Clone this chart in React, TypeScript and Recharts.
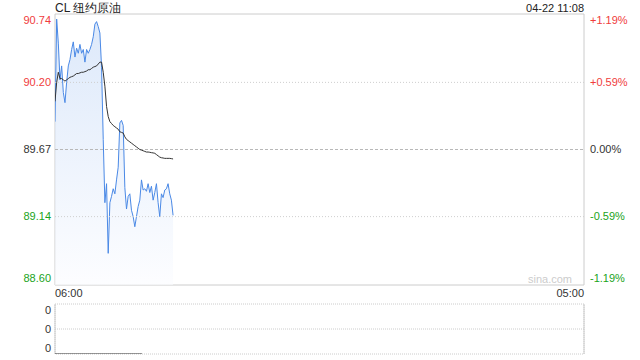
import { ComposedChart, Area, Line, XAxis, YAxis, ReferenceLine, ReferenceArea } from 'recharts';

// CL intraday, one reading about every 4.3 min from 06:00 to 11:08
const PRICE = [
  89.89, 90.70, 90.51, 90.22, 90.33, 90.12, 90.04, 90.20, 90.33, 90.38,
  90.46, 90.52, 90.40, 90.47, 90.43, 90.50, 90.43, 90.46, 90.36, 90.46,
  90.43, 90.46, 90.50, 90.56, 90.66, 90.68, 90.64, 90.59, 90.32, 89.75,
  89.25, 89.40, 88.85, 89.25, 89.30, 89.36, 89.32, 89.43, 89.53, 89.88,
  89.90, 89.86, 89.37, 89.20, 89.30, 89.32, 89.19, 89.14, 89.06, 89.14,
  89.22, 89.27, 89.43, 89.35, 89.36, 89.34, 89.40, 89.33, 89.38, 89.27,
  89.33, 89.40, 89.25, 89.14, 89.32, 89.29, 89.35, 89.36, 89.40, 89.32,
  89.27, 89.15,
];
const AVG = [
  90.05, 90.20, 90.28, 90.23, 90.23, 90.22, 90.21, 90.22, 90.23, 90.24,
  90.245, 90.25, 90.26, 90.27, 90.27, 90.275, 90.28, 90.28, 90.285, 90.29,
  90.30, 90.30, 90.31, 90.32, 90.325, 90.33, 90.345, 90.36, 90.36, 90.28,
  90.17, 90.01, 89.93, 89.89, 89.875, 89.86, 89.85, 89.84, 89.83, 89.81,
  89.805, 89.80, 89.77, 89.75, 89.74, 89.73, 89.72, 89.71, 89.70, 89.69,
  89.68, 89.67, 89.665, 89.66, 89.655, 89.65, 89.65, 89.648, 89.645, 89.643,
  89.64, 89.63, 89.62, 89.61, 89.605, 89.603, 89.60, 89.60, 89.60, 89.60,
  89.598, 89.595,
];
const STEP_MIN = 308 / (PRICE.length - 1);
const SESSION_MIN = 1380; // 06:00 -> 05:00

const PRICE_TICKS = [90.74, 90.2, 89.67, 89.14, 88.6];
const PCT_LABELS = ['+1.19%', '+0.59%', '0.00%', '-0.59%', '-1.19%'];
const TICK_COLORS = ['#f03c3c', '#f03c3c', '#333333', '#1aa31a', '#1aa31a'];
const TIME_TICKS = [0, SESSION_MIN];
const TIME_LABELS = ['06:00', '05:00'];

const VOL_MIN = [0, 227];
const VOL_VAL = [0, 0];
const VOL_TICKS = [2, 1, 0];

const FONT = '"Liberation Sans", Arial, sans-serif';

const rows = PRICE.map((p, i) => ({ t: i * STEP_MIN, price: p, avg: AVG[i] }));
const volRows = VOL_MIN.map((t, i) => ({ t, vol: VOL_VAL[i] }));

// top and bottom labels sit inside the plot edge
const edgeShift = (i: number, n: number) => (i === 0 ? 6 : i === n - 1 ? -7 : 0);

function PriceTick(props: any) {
  const i = PRICE_TICKS.indexOf(props.payload.value);
  return (
    <text x={props.x} y={props.y + edgeShift(i, PRICE_TICKS.length)} dy="0.35em"
      textAnchor="end" fill={TICK_COLORS[i]} fontSize={11} fontFamily={FONT}>
      {props.payload.value.toFixed(2)}
    </text>
  );
}

function PctTick(props: any) {
  const i = PRICE_TICKS.indexOf(props.payload.value);
  return (
    <text x={props.x} y={props.y + edgeShift(i, PRICE_TICKS.length)} dy="0.35em"
      textAnchor="start" fill={TICK_COLORS[i]} fontSize={11} fontFamily={FONT}>
      {PCT_LABELS[i]}
    </text>
  );
}

function TimeTick(props: any) {
  const i = TIME_TICKS.indexOf(props.payload.value);
  return (
    <text x={props.x} y={props.y + 2} dy="0.71em" textAnchor={i === 0 ? 'start' : 'end'}
      fill="#333" fontSize={11} fontFamily={FONT}>
      {TIME_LABELS[i]}
    </text>
  );
}

function VolTick(props: any) {
  const i = VOL_TICKS.indexOf(props.payload.value);
  return (
    <text x={props.x} y={props.y + (i === 0 ? 6 : i === 2 ? -6 : 0)} dy="0.35em"
      textAnchor="end" fill="#333" fontSize={11} fontFamily={FONT}>
      0
    </text>
  );
}

export default function App() {
  return (
    <div style={{ position: 'absolute', left: 0, top: 0, width: 640, height: 360, background: '#fff', fontFamily: FONT }}>
      <div style={{ position: 'absolute', left: 55, top: 1, fontSize: 12, lineHeight: '14px', color: '#222' }}>
        CL 纽约原油
      </div>
      <div style={{ position: 'absolute', left: 0, width: 584, top: 1, fontSize: 11, lineHeight: '14px', color: '#222', textAlign: 'right' }}>
        04-22 11:08
      </div>

      <div style={{ position: 'absolute', left: 0, top: 0 }}>
        <ComposedChart width={640} height={300} data={rows} margin={{ top: 14, right: 0, bottom: 0, left: 0 }}>
          <defs>
            <linearGradient id="priceFill" x1="0" y1="0" x2="0" y2="1">
              <stop offset="0%" stopColor="#c6daf7" stopOpacity={1} />
              <stop offset="100%" stopColor="#fbfcff" stopOpacity={1} />
            </linearGradient>
          </defs>
          <XAxis type="number" dataKey="t" domain={[0, SESSION_MIN]} ticks={TIME_TICKS} interval={0}
            axisLine={false} tickLine={false} tickSize={0} height={15} tick={TimeTick} allowDataOverflow />
          <YAxis yAxisId="l" domain={[88.6, 90.74]} ticks={PRICE_TICKS} width={55} interval={0}
            axisLine={false} tickLine={false} tickSize={0} tickMargin={4} tick={PriceTick} allowDataOverflow />
          <YAxis yAxisId="r" orientation="right" domain={[88.6, 90.74]} ticks={PRICE_TICKS} width={56} interval={0}
            axisLine={false} tickLine={false} tickSize={0} tickMargin={6} tick={PctTick} allowDataOverflow />
          <ReferenceArea yAxisId="l" x1={0} x2={SESSION_MIN} y1={88.6} y2={90.74}
            fill="none" stroke="#cccccc" strokeWidth={1} />
          <ReferenceLine yAxisId="l" y={90.2} stroke="#cfcfcf" strokeDasharray="1 2" />
          <ReferenceLine yAxisId="l" y={89.14} stroke="#cfcfcf" strokeDasharray="1 2" />
          <ReferenceLine yAxisId="l" y={89.67} stroke="#b8b8b8" strokeDasharray="3 2" />
          <Area yAxisId="l" type="linear" dataKey="price" stroke="#4a89e6" strokeWidth={1}
            fill="url(#priceFill)" dot={false} activeDot={false} isAnimationActive={false} />
          <Line yAxisId="r" type="linear" dataKey="avg" stroke="#333333" strokeWidth={1}
            dot={false} activeDot={false} isAnimationActive={false} />
        </ComposedChart>
      </div>

      <div style={{ position: 'absolute', left: 0, width: 572, top: 272, fontSize: 11, lineHeight: '14px', color: '#cccccc', textAlign: 'right' }}>
        sina.com
      </div>

      <div style={{ position: 'absolute', left: 0, top: 300 }}>
        <ComposedChart width={640} height={60} data={volRows} margin={{ top: 4, right: 56, bottom: 6, left: 0 }}>
          <XAxis type="number" dataKey="t" domain={[0, SESSION_MIN]} hide allowDataOverflow />
          <YAxis type="number" domain={[0, 2]} ticks={VOL_TICKS} interval={0} width={55} axisLine={false} tickLine={false}
            tickSize={0} tickMargin={4} tick={VolTick} allowDataOverflow />
          <ReferenceArea x1={0} x2={SESSION_MIN} y1={0} y2={2} fill="none" stroke="#cccccc" strokeDasharray="1 1" />
          <ReferenceLine y={1} stroke="#cccccc" strokeDasharray="1 1" />
          <ReferenceLine x={0} stroke="#cccccc" />
          <ReferenceLine x={SESSION_MIN} stroke="#cccccc" />
          <Line type="linear" dataKey="vol" stroke="#333333" strokeWidth={1}
            dot={false} activeDot={false} isAnimationActive={false} />
        </ComposedChart>
      </div>
    </div>
  );
}
